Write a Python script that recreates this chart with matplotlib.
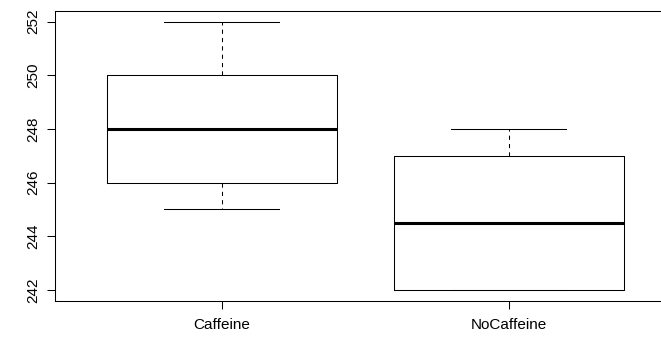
import matplotlib
matplotlib.use("Agg")
import matplotlib.pyplot as plt

categories = ["Caffeine", "NoCaffeine"]
whisker_low = [245, 242]
q1 = [246, 242]
median = [248, 244.5]
q3 = [250, 247]
whisker_high = [252, 248]
yticks = [242, 244, 246, 248, 250, 252]

plt.rcParams['font.family'] = ['Liberation Sans', 'DejaVu Sans']

W, H = 661, 337
fig = plt.figure(figsize=(W / 100, H / 100), dpi=100)
left, right, top, bottom = 55, 675.6, 11, 300.7
ax = fig.add_axes([left / W, 1 - bottom / H, (right - left) / W, (bottom - top) / H])

stats = []
for i, c in enumerate(categories):
    stats.append(dict(label=c, whislo=whisker_low[i], q1=q1[i], med=median[i],
                      q3=q3[i], whishi=whisker_high[i], fliers=[]))

lw = 0.75
ax.bxp(stats, positions=range(1, len(categories) + 1), widths=0.8,
       showfliers=False, patch_artist=False, capwidths=0.4,
       boxprops=dict(color='black', linewidth=lw),
       whiskerprops=dict(color='black', linewidth=lw, linestyle=(0, (4, 4))),
       capprops=dict(color='black', linewidth=lw),
       medianprops=dict(color='black', linewidth=2.2, solid_capstyle='butt'))

ax.set_xlim(0.42, 2.58)
ax.set_ylim(241.6, 252.4)
ax.set_yticks(yticks)
ax.set_yticklabels([str(v) for v in yticks], rotation=90, va='center', fontsize=11)
ax.set_xticks([1, 2])
ax.set_xticklabels(categories, fontsize=11)
ax.tick_params(axis='both', direction='out', length=5.5, width=lw, color='black')
ax.tick_params(axis='y', pad=5)
ax.tick_params(axis='x', pad=7)
for s in ax.spines.values():
    s.set_linewidth(lw)
    s.set_color('black')

fig.savefig("out.png", dpi=100)
